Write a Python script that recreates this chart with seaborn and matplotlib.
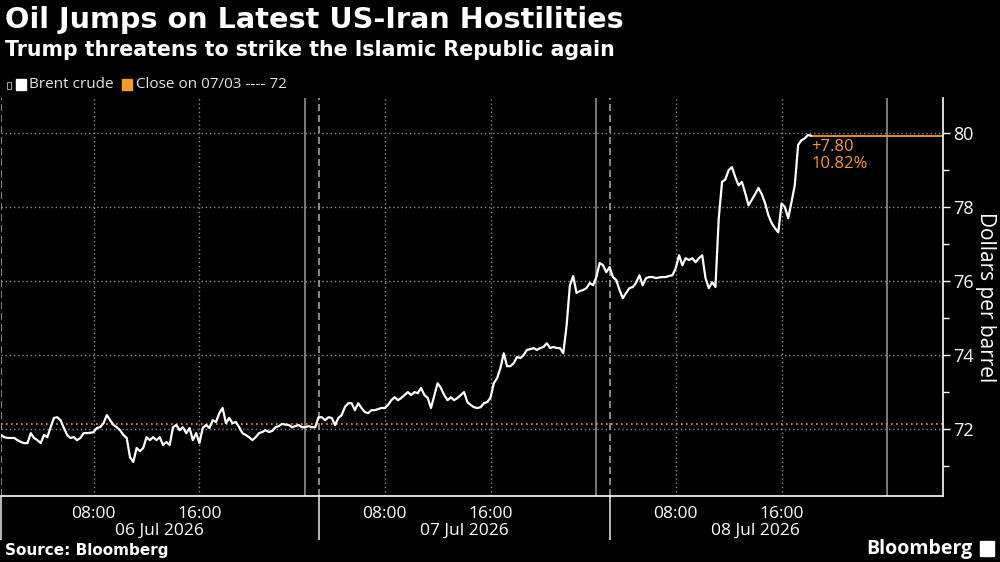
import numpy as np
import pandas as pd
import matplotlib
matplotlib.use("Agg")
from matplotlib import pyplot as plt
from matplotlib.patches import Rectangle
import seaborn as sns

# Brent crude, one price every 15 min on the trading clock
# (hours since the 01:00 open on 06 Jul, daily 01:00-03:00 break removed)
brent = [
    71.84, 71.78, 71.76, 71.76, 71.76, 71.70, 71.65, 71.62, 71.62, 71.89,
    71.76, 71.70, 71.62, 71.84, 71.78, 72.05, 72.30, 72.32, 72.24, 72.03,
    71.84, 71.76, 71.78, 71.70, 71.76, 71.89, 71.89, 71.90, 71.92, 72.03,
    72.05, 72.16, 72.38, 72.24, 72.11, 72.05, 71.97, 71.84, 71.76, 71.24,
    71.11, 71.49, 71.40, 71.49, 71.78, 71.70, 71.78, 71.70, 71.78, 71.57,
    71.65, 71.57, 72.05, 72.11, 71.97, 72.05, 71.89, 72.03, 71.70, 71.89,
    71.62, 72.03, 72.11, 72.03, 72.24, 72.19, 72.43, 72.57, 72.16, 72.30,
    72.16, 72.19, 72.05, 71.89, 71.84, 71.78, 71.70, 71.78, 71.89, 71.92,
    71.97, 71.92, 71.95, 72.05, 72.08, 72.14, 72.12, 72.11, 72.05, 72.08,
    72.11, 72.05, 72.05, 72.08, 72.05, 72.05, 72.32, 72.32, 72.24, 72.32,
    72.30, 72.11, 72.30, 72.38, 72.60, 72.70, 72.70, 72.51, 72.70, 72.57,
    72.46, 72.43, 72.51, 72.51, 72.54, 72.57, 72.57, 72.65, 72.78, 72.86,
    72.78, 72.84, 72.92, 73.00, 72.92, 73.00, 72.97, 73.11, 72.92, 72.84,
    72.57, 72.90, 73.24, 73.11, 72.92, 72.78, 72.86, 72.78, 72.84, 72.92,
    73.00, 72.73, 72.65, 72.59, 72.57, 72.59, 72.70, 72.73, 72.85, 73.24,
    73.38, 73.65, 74.05, 73.70, 73.70, 73.78, 73.95, 73.92, 74.00, 74.14,
    74.16, 74.19, 74.14, 74.19, 74.22, 74.32, 74.19, 74.22, 74.19, 74.19,
    74.05, 74.80, 75.89, 76.14, 75.68, 75.73, 75.76, 75.81, 75.95, 75.89,
    76.11, 76.49, 76.43, 76.24, 76.38, 76.11, 76.03, 75.76, 75.54, 75.68,
    75.81, 75.84, 75.95, 76.16, 75.89, 76.08, 76.11, 76.11, 76.08, 76.10,
    76.11, 76.11, 76.14, 76.16, 76.35, 76.70, 76.43, 76.62, 76.57, 76.62,
    76.51, 76.62, 76.70, 76.08, 75.81, 75.97, 75.84, 77.70, 78.68, 78.75,
    79.00, 79.08, 78.81, 78.59, 78.68, 78.38, 78.05, 78.20, 78.35, 78.52,
    78.35, 78.11, 77.78, 77.57, 77.43, 77.32, 78.10, 78.00, 77.70, 78.14,
    78.60, 79.68, 79.81, 79.86, 79.95, 79.93,
]
prev_close = 72.13
change = 7.80
change_pct = 10.82

time_ticks = [7, 15, 29, 37, 51, 59]
time_labels = ["08:00", "16:00", "08:00", "16:00", "08:00", "16:00"]
minor_ticks = [3, 11, 19, 23, 25, 33, 41, 45, 47, 55, 63, 67]
midnights = [23, 45, 67]
session_opens = [0, 24, 46]
day_centers = [12, 35, 57]
day_labels = ["06 Jul 2026", "07 Jul 2026", "08 Jul 2026"]
y_ticks = [72, 74, 76, 78, 80]

ORANGE = "#F39C2C"
GRID = "#8c8c8c"

df = pd.DataFrame({"hours": np.arange(len(brent)) * 0.25, "price": brent})

sns.set_theme(style="dark")
plt.rcParams["font.family"] = ["Open Sans", "DejaVu Sans"]
plt.rcParams["figure.facecolor"] = "black"
plt.rcParams["axes.facecolor"] = "black"

fig = plt.figure(figsize=(10, 5.62), dpi=100)
ax = fig.add_axes([0.001, 0.1174, 0.942, 0.7082])

# grid
for y in y_ticks:
    ax.axhline(y, color=GRID, lw=1, ls=(0, (1, 2)), zorder=1)
for x in time_ticks:
    ax.axvline(x, color=GRID, lw=1, ls=(0, (1, 2)), zorder=1)
for x in midnights:
    ax.axvline(x, color="#9a9a9a", lw=1.1, zorder=1)
for x in session_opens:
    ax.axvline(x, color="#a0a0a0", lw=1.2, ls=(0, (4.2, 2.4)), zorder=1)

ax.axhline(prev_close, color=ORANGE, lw=1.2, ls=(0, (1, 2)), zorder=2)

sns.lineplot(data=df, x="hours", y="price", color="white", lw=1.6, ax=ax, zorder=3)

last_x = df["hours"].iloc[-1]
last_y = df["price"].iloc[-1]
ax.plot([last_x, 71.2], [last_y, last_y], color=ORANGE, lw=1.3, zorder=2)
ax.text(last_x, last_y - 0.08, f"+{change:.2f}", color=ORANGE, fontsize=12,
        ha="left", va="top")
ax.text(last_x, last_y - 0.55, f"{change_pct:.2f}%", color=ORANGE, fontsize=12,
        ha="left", va="top")

ax.set_xlim(0, 71.2)
ax.set_ylim(70.19, 80.95)
ax.set_xlabel("")

ax.yaxis.tick_right()
ax.yaxis.set_label_position("right")
ax.set_yticks(y_ticks)
ax.set_yticks([71, 73, 75, 77, 79], minor=True)
ax.set_ylabel("Dollars per barrel", rotation=270, color="white", fontsize=15, labelpad=16)

ax.set_xticks(time_ticks)
ax.set_xticklabels(time_labels)
ax.set_xticks(minor_ticks, minor=True)

ax.tick_params(axis="both", which="both", colors="white", direction="out", width=1)
ax.tick_params(axis="x", which="major", length=5, pad=2, labelsize=12.5)
ax.tick_params(axis="x", which="minor", length=5)
ax.tick_params(axis="y", which="major", length=5, pad=2, labelsize=13)
ax.tick_params(axis="y", which="minor", length=4)

for s in ["left", "top"]:
    ax.spines[s].set_visible(False)
for s in ["right", "bottom"]:
    ax.spines[s].set_visible(True)
    ax.spines[s].set_color("white")
    ax.spines[s].set_linewidth(1.2)
ax.grid(False)

# long separators between the days
ax.vlines(session_opens, -0.11, 0, transform=ax.get_xaxis_transform(), clip_on=False,
          color="#c8c8c8", lw=1.3)
for xc, lab in zip(day_centers, day_labels):
    ax.text(xc, -0.088, lab, transform=ax.get_xaxis_transform(), ha="center", va="center",
            color="white", fontsize=12.5)

# titles
fig.text(0.005, 1 - 20 / 562, "Oil Jumps on Latest US-Iran Hostilities", color="white",
         fontsize=20.7, fontweight="bold", family="DejaVu Sans", va="center", ha="left")
fig.text(0.005, 1 - 50 / 562, "Trump threatens to strike the Islamic Republic again",
         color="white", fontsize=14.8, fontweight="bold", family="DejaVu Sans",
         va="center", ha="left")

# legend
fig.patches.append(Rectangle((7 / 1000, 1 - 89 / 562), 4 / 1000, 7 / 562, fill=False,
                             ec="#999999", lw=0.8, transform=fig.transFigure))
fig.patches.append(Rectangle((16 / 1000, 1 - 90 / 562), 10 / 1000, 11 / 562,
                             color="white", transform=fig.transFigure))
fig.text(29 / 1000, 1 - 84 / 562, "Brent crude", color="#e6e6e6", fontsize=11,
         va="center", ha="left")
fig.patches.append(Rectangle((122 / 1000, 1 - 90 / 562), 10 / 1000, 11 / 562,
                             color=ORANGE, transform=fig.transFigure))
fig.text(136 / 1000, 1 - 84 / 562, f"Close on 07/03 ---- {prev_close:.0f}", color="#e6e6e6",
         fontsize=11, va="center", ha="left")

# footer
fig.text(0.005, 1 - 550 / 562, "Source: Bloomberg", color="white", fontsize=11,
         fontweight="bold", family="DejaVu Sans", va="center", ha="left")
fig.text(972 / 1000, 1 - 549 / 562, "Bloomberg", color="white", fontsize=14,
         fontweight="bold", va="center", ha="right")
fig.patches.append(Rectangle((980 / 1000, 1 - 556 / 562), 14 / 1000, 15 / 562,
                             color="white", transform=fig.transFigure))

fig.savefig("out.png", dpi=100, facecolor="black")
